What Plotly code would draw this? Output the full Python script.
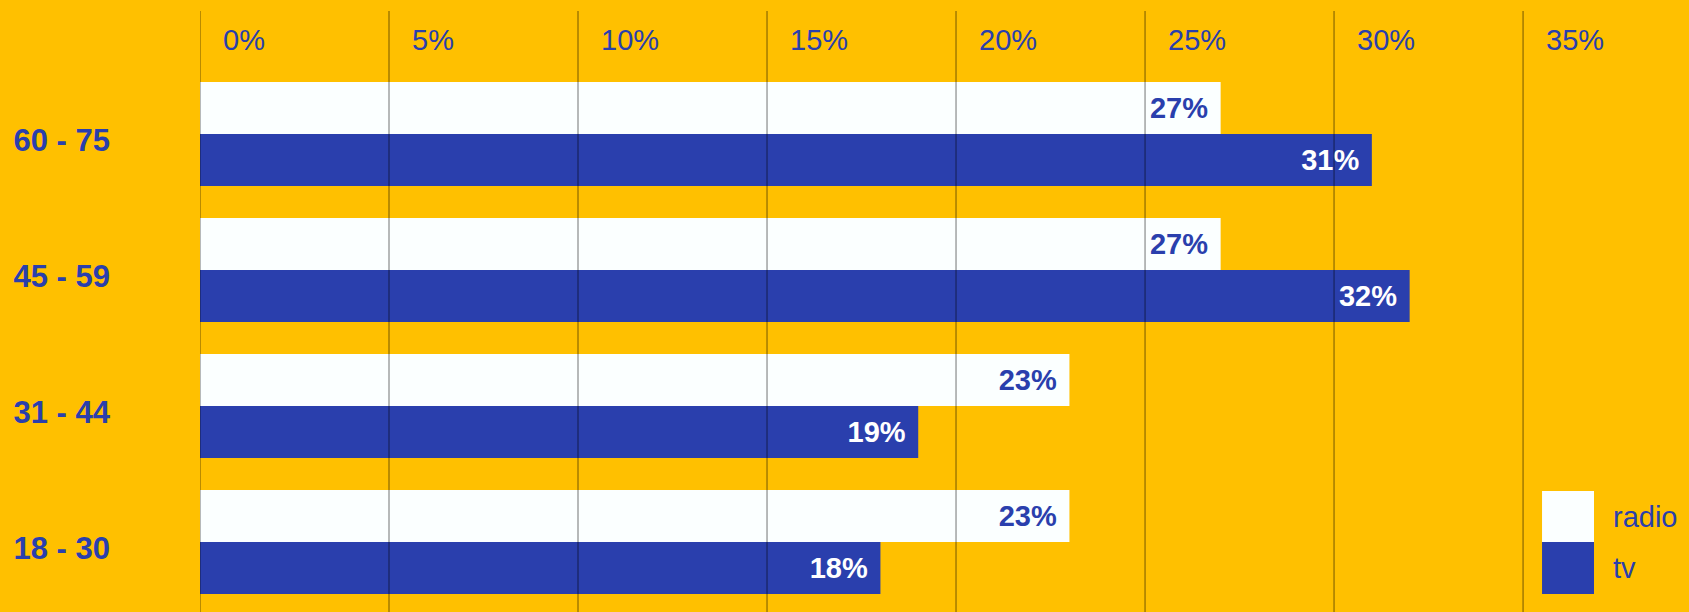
import plotly.graph_objects as go

# ---- data ----
age_groups = ["18 - 30", "31 - 44", "45 - 59", "60 - 75"]
radio = [23, 23, 27, 27]
tv = [18, 19, 32, 31]
x_ticks = [0, 5, 10, 15, 20, 25, 30, 35]
series_names = ["radio", "tv"]

BG = "#FFC000"
BLUE = "#2A3FAD"
WHITE = "#FBFFFF"
FONT = "Liberation Sans, Arial, sans-serif"
PAD = "\u2004"

fig = go.Figure()
fig.add_trace(go.Bar(
    y=age_groups, x=tv, name=series_names[1], orientation="h",
    marker=dict(color=BLUE, line=dict(width=0)),
    text=[f"{v}%{PAD}" for v in tv], textposition="inside", insidetextanchor="end",
    textangle=0, constraintext="none",
    insidetextfont=dict(family=FONT, size=29, color="white", weight="bold"),
    hoverinfo="skip",
))
fig.add_trace(go.Bar(
    y=age_groups, x=radio, name=series_names[0], orientation="h",
    marker=dict(color=WHITE, line=dict(width=0)),
    text=[f"{v}%{PAD}" for v in radio], textposition="inside", insidetextanchor="end",
    textangle=0, constraintext="none",
    insidetextfont=dict(family=FONT, size=29, color=BLUE, weight="bold"),
    hoverinfo="skip",
))

# gridlines drawn above the bars
for v in x_ticks:
    fig.add_shape(type="line", xref="x", yref="paper", x0=v, x1=v, y0=0, y1=1,
                  line=dict(color="rgba(0,0,0,0.55)", width=1), layer="above")

# custom legend (large swatches)
legend_rows = [(series_names[0], WHITE, 0.2013, 0.1165), (series_names[1], BLUE, 0.1165, 0.030)]
for name, col, ytop, ybot in legend_rows:
    fig.add_shape(type="rect", xref="paper", yref="paper", x0=0.9013, x1=0.9362,
                  y0=ybot, y1=ytop, fillcolor=col, line=dict(width=0), layer="above")
    fig.add_annotation(xref="paper", yref="paper", x=0.9477, y=(ytop + ybot) / 2,
                       text=name, showarrow=False, xanchor="left", yanchor="middle",
                       font=dict(family=FONT, size=29, color=BLUE))

fig.update_layout(
    width=1689, height=612,
    margin=dict(l=200, r=0, t=11, b=0),
    paper_bgcolor=BG, plot_bgcolor=BG,
    barmode="group", bargap=0.235, bargroupgap=0,
    showlegend=False,
    font=dict(family=FONT, color=BLUE),
)
fig.update_xaxes(
    range=[0, 39.39], side="top", tickvals=x_ticks, ticktext=[f"{v}%" for v in x_ticks],
    showgrid=False, zeroline=False, showline=False, ticks="",
    ticklabelposition="inside right", ticklabelstandoff=13, ticklabelshift=23,
    tickfont=dict(family=FONT, size=29, color=BLUE),
)
fig.update_yaxes(
    type="category", categoryorder="array", categoryarray=age_groups,
    range=[-0.515, 3.904], showgrid=False, zeroline=False, showline=False, ticks="",
    ticklabelstandoff=89, ticklabelshift=6,
    tickfont=dict(family=FONT, size=31, color=BLUE, weight="bold"),
)

fig.write_html(
    "out.html",
    config={"displayModeBar": False},
    post_script="document.body.style.margin='0';document.body.style.overflow='hidden';",
)
